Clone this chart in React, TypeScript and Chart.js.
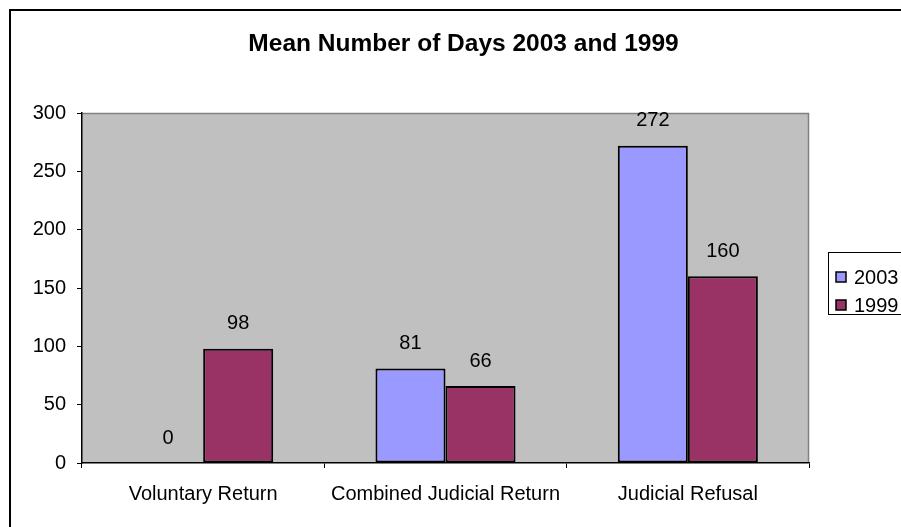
import React, { useEffect, useRef } from "react";
import { Chart, registerables } from "chart.js";

Chart.register(...registerables);

const categories = ["Voluntary Return", "Combined Judicial Return", "Judicial Refusal"];
const seriesLabels = ["2003", "1999"];
const values2003 = [0, 81, 272];
const values1999 = [98, 66, 160];
const yTicks = [0, 50, 100, 150, 200, 250, 300];
const chartTitle = "Mean Number of Days 2003 and 1999";
const seriesColors = ["#9999FF", "#993366"];

const FONT = "'Liberation Sans', Arial, Helvetica, sans-serif";

const decor = {
  id: "decor",
  beforeDraw(chart: any) {
    const { ctx, chartArea: a } = chart;
    ctx.save();
    ctx.fillStyle = "#ffffff";
    ctx.fillRect(0, 0, chart.width, chart.height);
    ctx.strokeStyle = "#000000";
    ctx.lineWidth = 2;
    ctx.strokeRect(10, 10, chart.width + 40, chart.height + 40);
    ctx.fillStyle = "#C0C0C0";
    ctx.fillRect(a.left, a.top, a.right - a.left, a.bottom - a.top);
    ctx.strokeStyle = "#808080";
    ctx.lineWidth = 1.5;
    ctx.beginPath();
    ctx.moveTo(a.left, a.top + 0.5);
    ctx.lineTo(a.right - 0.5, a.top + 0.5);
    ctx.lineTo(a.right - 0.5, a.bottom);
    ctx.stroke();
    ctx.fillStyle = "#000000";
    ctx.font = `bold 24.5px ${FONT}`;
    ctx.textAlign = "center";
    ctx.textBaseline = "middle";
    ctx.fillText(chartTitle, 463.5, 44);
    ctx.restore();
  },
  afterDatasetsDraw(chart: any) {
    const { ctx } = chart;
    ctx.save();
    ctx.fillStyle = "#000000";
    ctx.font = `20px ${FONT}`;
    ctx.textAlign = "center";
    ctx.textBaseline = "middle";
    chart.data.datasets.forEach((ds: any, i: number) => {
      const meta = chart.getDatasetMeta(i);
      meta.data.forEach((el: any, j: number) => {
        ctx.fillText(String(ds.data[j]), el.x, el.y - 25);
      });
    });
    // legend
    const lx = 828, ly = 252, lh = 62;
    ctx.strokeStyle = "#000000";
    ctx.lineWidth = 1;
    ctx.strokeRect(lx + 0.5, ly + 0.5, 200, lh);
    ctx.textAlign = "left";
    chart.data.datasets.forEach((ds: any, i: number) => {
      const cy = 277 + i * 28;
      ctx.fillStyle = ds.backgroundColor;
      ctx.fillRect(836, cy - 5, 10, 10);
      ctx.strokeStyle = "#000000";
      ctx.lineWidth = 1.5;
      ctx.strokeRect(836, cy - 5, 10, 10);
      ctx.fillStyle = "#000000";
      ctx.fillText(ds.label, 854, cy + 1);
    });
    ctx.restore();
  },
};

export default function App() {
  const ref = useRef<HTMLCanvasElement | null>(null);
  useEffect(() => {
    if (!ref.current) return;
    const chart = new Chart(ref.current, {
      type: "bar",
      data: {
        labels: categories,
        datasets: [
          {
            label: seriesLabels[0],
            data: values2003,
            backgroundColor: seriesColors[0],
            borderColor: "#000000",
            borderWidth: 2,
            borderSkipped: false,
            categoryPercentage: 0.578,
            barPercentage: 1.0,
          },
          {
            label: seriesLabels[1],
            data: values1999,
            backgroundColor: seriesColors[1],
            borderColor: "#000000",
            borderWidth: 2,
            borderSkipped: false,
            categoryPercentage: 0.578,
            barPercentage: 1.0,
          },
        ] as any,
      },
      options: {
        responsive: false,
        animation: false,
        layout: { padding: { left: 20, top: 113, right: 92, bottom: 20 } },
        plugins: {
          legend: { display: false },
          title: { display: false },
          tooltip: { enabled: false },
        },
        scales: {
          x: {
            offset: true,
            grid: {
              display: true,
              offset: true,
              drawOnChartArea: false,
              tickLength: 5,
              tickColor: "#000000",
              tickWidth: 1,
            },
            border: { display: true, color: "#000000", width: 1.5 },
            ticks: { color: "#000000", font: { family: FONT, size: 20 }, padding: 14, maxRotation: 0 },
            afterFit: (s: any) => { s.height = 44; },
          },
          y: {
            min: yTicks[0],
            max: yTicks[yTicks.length - 1],
            grid: {
              display: true,
              drawOnChartArea: false,
              tickLength: 5,
              tickColor: "#000000",
              tickWidth: 1,
            },
            border: { display: true, color: "#000000", width: 1.5 },
            ticks: {
              stepSize: yTicks[1] - yTicks[0],
              color: "#000000",
              font: { family: FONT, size: 20 },
              padding: 11,
            },
            afterFit: (s: any) => { s.width = 62; },
          },
        },
      },
      plugins: [decor],
    });
    return () => chart.destroy();
  }, []);
  return (
    <canvas
      ref={ref}
      width={901}
      height={527}
      style={{ position: "absolute", left: 0, top: 0, width: 901, height: 527 }}
    />
  );
}
